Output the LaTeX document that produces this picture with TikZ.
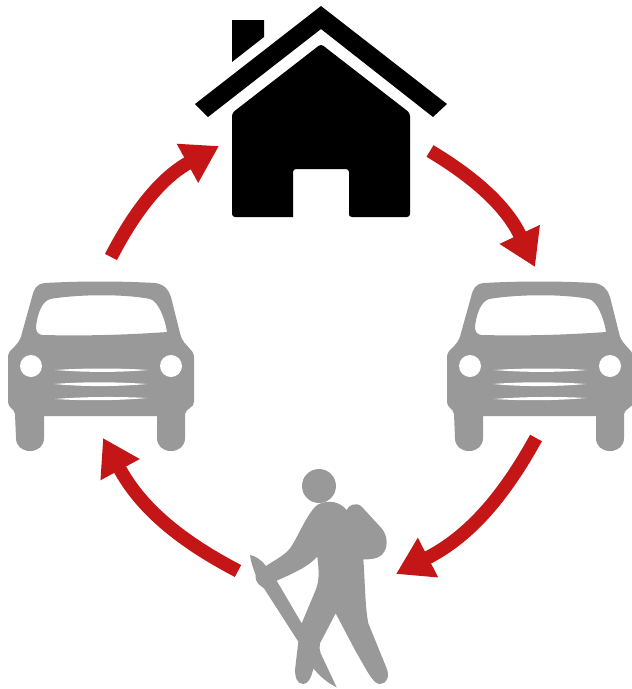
\documentclass[tikz,border=0pt]{standalone}
\usepackage{tikz}
\usetikzlibrary{arrows.meta}
\definecolor{tripred}{HTML}{C41616}
\definecolor{tripgrey}{HTML}{999999}
\tikzset{
  triparrow/.style={draw=tripred,line width=13.5pt,
    -{Triangle[length=36pt,width=42pt,fill=tripred]}},
  pics/car/.style={code={
    \fill[tripgrey,even odd rule]
      (45,283) .. controls (80,281) and (120,281) .. (155,283)
      .. controls (164,284) and (169,290) .. (171,297)
      -- (180,333) .. controls (182,342) and (186,344) .. (190,349)
      .. controls (193,352) and (194,354) .. (194,358)
      -- (194,402) .. controls (194,408) and (186,408) .. (185,414)
      -- (185,438) .. controls (185,446) and (179,451) .. (171,451)
      .. controls (163,451) and (157,446) .. (157,438)
      -- (157,416) -- (44,416) -- (44,438)
      .. controls (44,446) and (38,451) .. (30,451)
      .. controls (22,451) and (16,446) .. (16,438)
      -- (15,414) .. controls (14,408) and (8,408) .. (8,402)
      -- (8,358) .. controls (8,354) and (9,352) .. (12,349)
      .. controls (16,345) and (20,342) .. (22,333)
      -- (32,297) .. controls (34,289) and (36,284) .. (45,283) -- cycle
      (36,326) .. controls (38,312) and (42,302) .. (50,299)
      .. controls (80,294) and (125,294) .. (150,299)
      .. controls (158,301) and (165,318) .. (167,332)
      .. controls (125,335) and (85,336) .. (42,335)
      .. controls (37,334) and (36,331) .. (36,326) -- cycle;
    \fill[white] (31,366) circle (11);
    \fill[white] (171,366) circle (11);
    \fill[white] (55,370) .. controls (85,368) and (120,368) .. (148,370)
      .. controls (120,372.5) and (85,372.5) .. (55,370) -- cycle;
    \fill[white] (54,384) .. controls (85,381.5) and (120,382) .. (147,384)
      .. controls (120,386.5) and (85,387) .. (54,384) -- cycle;
    \fill[white] (55,399) .. controls (85,396.5) and (120,396.5) .. (147,398)
      .. controls (120,400.5) and (85,401) .. (55,399) -- cycle;
  }},
}
\begin{document}
\begin{tikzpicture}[x=1pt,y=-1pt]
  \useasboundingbox (0,0) rectangle (632,689);
  % house
  \fill (321,6) -- (447,104) -- (433,117) -- (321,29) -- (208,117) -- (195,104) -- cycle;
  \fill (232,20) -- (264,20) -- (264,37) -- (232,62) -- cycle;
  \fill[rounded corners=3pt] (321,44) -- (410,113) -- (410,217) -- (349,217)
    [sharp corners] -- (349,217) -- (349,172) [rounded corners=3pt] -- (349,169) -- (293,169)
    -- (293,172) [sharp corners] -- (293,217) [rounded corners=3pt] -- (232,217) -- (232,113) -- cycle;
  % cars
  \pic at (0,0) {car};
  \pic at (439,0) {car};
  % hiker
  \begin{scope}[shift={(240,460)},scale=1/3]
    \fill[tripgrey] (237,78) circle (51);
    \fill[tripgrey,even odd rule]
      (30,285) .. controls (45,287) and (65,300) .. (78,318)
      .. controls (105,300) and (135,285) .. (150,265)
      .. controls (170,240) and (205,150) .. (235,133)
      .. controls (265,118) and (300,125) .. (320,150)
      .. controls (325,135) and (350,125) .. (365,140)
      -- (425,205) .. controls (445,230) and (445,265) .. (425,285)
      .. controls (410,298) and (390,298) .. (370,298)
      .. controls (375,360) and (375,440) .. (385,490)
      -- (440,625) .. controls (450,650) and (440,672) .. (420,672)
      .. controls (400,672) and (385,640) .. (345,570)
      -- (287,460) -- (240,550) .. controls (238,560) and (238,570) .. (242,580)
      -- (290,682) .. controls (265,670) and (240,650) .. (220,625)
      .. controls (215,650) and (205,672) .. (190,672)
      .. controls (170,672) and (165,650) .. (165,630)
      -- (175,545) -- (72,385) .. controls (60,375) and (45,370) .. (47,345)
      .. controls (40,325) and (32,305) .. (30,285) -- cycle
      (110,362) -- (185,490) -- (225,395) .. controls (238,365) and (238,340) .. (232,290)
      .. controls (205,320) and (160,340) .. (110,362) -- cycle;
  \end{scope}
  % arrows
  \coordinate (carL) at (111,257);
  \coordinate (homeL) at (219,146);
  \coordinate (homeR) at (430,151);
  \coordinate (carR) at (535,267);
  \coordinate (carRb) at (536,438);
  \coordinate (hikerR) at (396,574);
  \coordinate (hikerL) at (238,571);
  \coordinate (carLb) at (103,438);
  \draw[triparrow] (carL) to[bend left=17] (homeL);
  \draw[triparrow] (homeR) to[bend left=17] (carR);
  \draw[triparrow] (carRb) to[bend left=17] (hikerR);
  \draw[triparrow] (hikerL) to[bend left=17] (carLb);
\end{tikzpicture}
\end{document}
